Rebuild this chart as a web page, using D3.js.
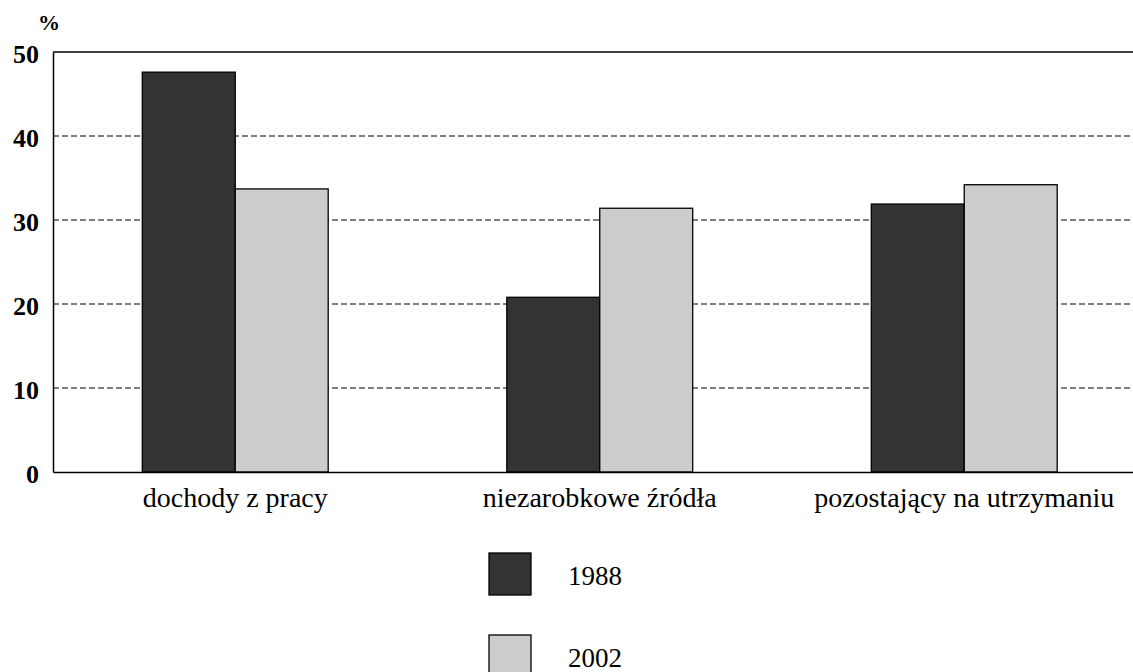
<!DOCTYPE html>
<html><head><meta charset="utf-8">
<script src="https://cdn.jsdelivr.net/npm/d3@7/dist/d3.min.js"></script>
<style>body{margin:0;background:#fff}svg{display:block}</style>
</head><body><svg id="c" width="1133" height="672"></svg>
<script>
const categories = ["dochody z pracy", "niezarobkowe źródła", "pozostający na utrzymaniu"];
const seriesNames = ["1988", "2002"];
const values1988 = [47.6, 20.8, 31.9];
const values2002 = [33.7, 31.4, 34.2];
const yTicks = [0, 10, 20, 30, 40, 50];
const colors = ["#333333", "#cccccc"];
const FONT = '"Liberation Serif", "Times New Roman", serif';

const svg = d3.select("#c");
const m = {left: 53, top: 52, right: 1146.5, bottom: 472};
const x = d3.scaleBand().domain(categories).range([m.left, m.right]).paddingInner(0.49).paddingOuter(0.245);
const xs = d3.scaleBand().domain(seriesNames).range([0, x.bandwidth()]);
const y = d3.scaleLinear().domain([0, 50]).range([m.bottom, m.top]);

// gridlines
svg.append("g").selectAll("line").data(yTicks.filter(t => t > 0 && t < 50)).join("line")
  .attr("x1", m.left).attr("x2", m.right).attr("y1", d => y(d)).attr("y2", d => y(d))
  .attr("stroke", "#000").attr("stroke-width", 1.2).attr("stroke-dasharray", "6,3");

// frame
svg.append("line").attr("x1", m.left).attr("x2", m.right).attr("y1", m.top).attr("y2", m.top).attr("stroke", "#000").attr("stroke-width", 1.5);

const series = [values1988, values2002];
const g = svg.append("g");
series.forEach((vals, si) => {
  g.append("g").selectAll("rect").data(categories).join("rect")
    .attr("x", (c) => x(c) + xs(seriesNames[si]))
    .attr("width", xs.bandwidth())
    .attr("y", (c, i) => y(vals[i]))
    .attr("height", (c, i) => y(0) - y(vals[i]))
    .attr("fill", colors[si]).attr("stroke", "#000").attr("stroke-width", 1.3);
});

// axes
const yAxis = svg.append("g").attr("transform", `translate(${m.left},0)`).call(d3.axisLeft(y).tickValues(yTicks).tickSize(0).tickPadding(14));
yAxis.attr("font-family", null);
yAxis.select(".domain").attr("stroke", "#000").attr("stroke-width", 1.5);
yAxis.selectAll("text").style("font-family", FONT).style("font-size", "26px").style("font-weight", "bold").attr("dy", "0.4em").attr("fill", "#000");

const xAxis = svg.append("g").attr("transform", `translate(0,${m.bottom})`).call(d3.axisBottom(x).tickSize(0).tickPadding(0));
xAxis.attr("font-family", null);
xAxis.select(".domain").attr("stroke", "#000").attr("stroke-width", 1.5);
xAxis.selectAll("text").style("font-family", FONT).style("font-size", "28px").attr("dy", "35").attr("fill", "#000");

svg.append("text").attr("x", 38).attr("y", 30).style("font-family", FONT).style("font-size", "22px").style("font-weight", "bold").text("%");

// legend
const leg = svg.append("g");
seriesNames.forEach((s, i) => {
  leg.append("rect").attr("x", 489).attr("y", 553 + i * 82).attr("width", 42).attr("height", 42)
    .attr("fill", colors[i]).attr("stroke", "#000").attr("stroke-width", 1.3);
  leg.append("text").attr("x", 568).attr("y", 585 + i * 82).style("font-family", FONT).style("font-size", "27px").text(s);
});
</script></body></html>
